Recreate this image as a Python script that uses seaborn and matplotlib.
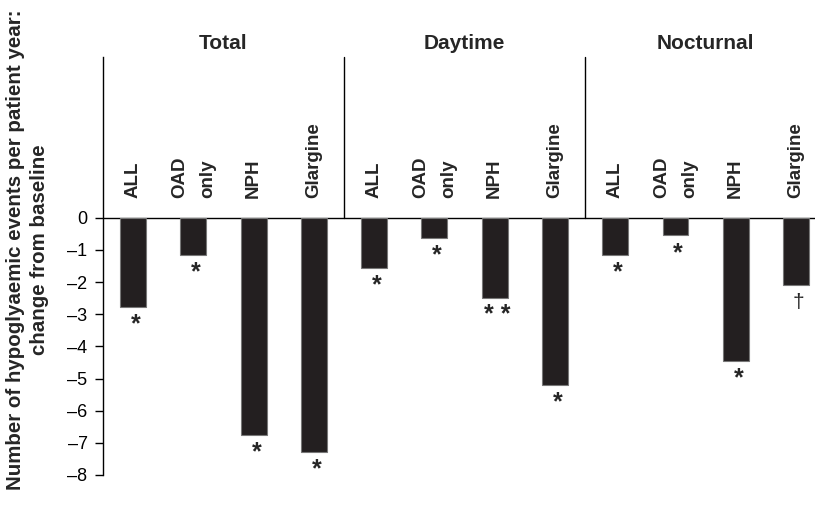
import matplotlib
matplotlib.use("Agg")
import matplotlib.pyplot as plt
import seaborn as sns
import pandas as pd

# Change in hypoglycaemic event rate per patient year, by period and treatment group
periods = ["Total", "Daytime", "Nocturnal"]
treatments = ["ALL", "OAD\nonly", "NPH", "Glargine"]
total_change = [-2.77, -1.17, -6.76, -7.29]
daytime_change = [-1.56, -0.64, -2.48, -5.21]
nocturnal_change = [-1.17, -0.55, -4.45, -2.08]
total_marks = ["*", "*", "*", "*"]
daytime_marks = ["*", "*", "* *", "*"]
nocturnal_marks = ["*", "*", "*", "\u2020"]
y_ticks = [0, -1, -2, -3, -4, -5, -6, -7, -8]

rows = []
for period, vals, marks in zip(periods,
                               [total_change, daytime_change, nocturnal_change],
                               [total_marks, daytime_marks, nocturnal_marks]):
    for treat, v, m in zip(treatments, vals, marks):
        rows.append({"period": period, "treatment": treat,
                     "key": f"{period}|{treat}", "change": v, "mark": m})
df = pd.DataFrame(rows)

sns.set_theme(style="white")
plt.rcParams["font.family"] = ["Liberation Sans", "DejaVu Sans"]

fig = plt.figure(figsize=(8.15, 5.05), dpi=100)
ax = fig.add_axes([103.5 / 815, 1 - 475 / 505, 711.5 / 815, 418 / 505])

sns.barplot(data=df, x="key", y="change", order=list(df["key"]),
            color="#231f20", saturation=1, width=0.43,
            edgecolor="#777777", linewidth=0.8, ax=ax)

ax.set_xlim(-0.49, 11.315)
ax.set_ylim(-8, 5.0)

# axes styling: only the left spine, ticks for non-positive values
for side in ["top", "right", "bottom"]:
    ax.spines[side].set_visible(False)
ax.spines["left"].set_color("black")
ax.spines["left"].set_linewidth(1.0)
ax.set_yticks(y_ticks)
ax.set_yticklabels([f"{t}".replace("-", "\u2013") for t in y_ticks], fontsize=13)
ax.tick_params(axis="y", direction="out", length=6, width=1.0, pad=5.5,
               colors="black", left=True)
ax.set_xticks([])
ax.set_xlabel("")
ax.set_ylabel("Number of hypoglyaemic events per patient year:\nchange from baseline",
              fontsize=14.8, fontweight="bold", linespacing=1.3, va="center")
ax.yaxis.set_label_coords(-0.107, 0.538)

# baseline and period separators
ax.axhline(0, color="black", lw=1.0, zorder=0)
for sep in [3.5, 7.5]:
    ax.plot([sep, sep], [0, 5.0], color="black", lw=1.0, clip_on=False)

# period titles and treatment labels
for g, period in enumerate(periods):
    ax.text(g * 4 + 1.5, 5.42, period, ha="center", va="center",
            fontsize=15, fontweight="bold", clip_on=False)

for i, row in df.iterrows():
    ax.text(i, 0.62, row["treatment"], rotation=90, ha="center", va="bottom",
            fontsize=13.5, fontweight="bold", linespacing=1.85,
            multialignment="left")
    is_star = "*" in row["mark"]
    ax.annotate(row["mark"], xy=(i, row["change"]), xytext=(2, -12.5),
                textcoords="offset points", ha="center", va="center",
                fontsize=18 if is_star else 15,
                fontweight="bold" if is_star else "normal")

fig.savefig("out.png", dpi=100)
